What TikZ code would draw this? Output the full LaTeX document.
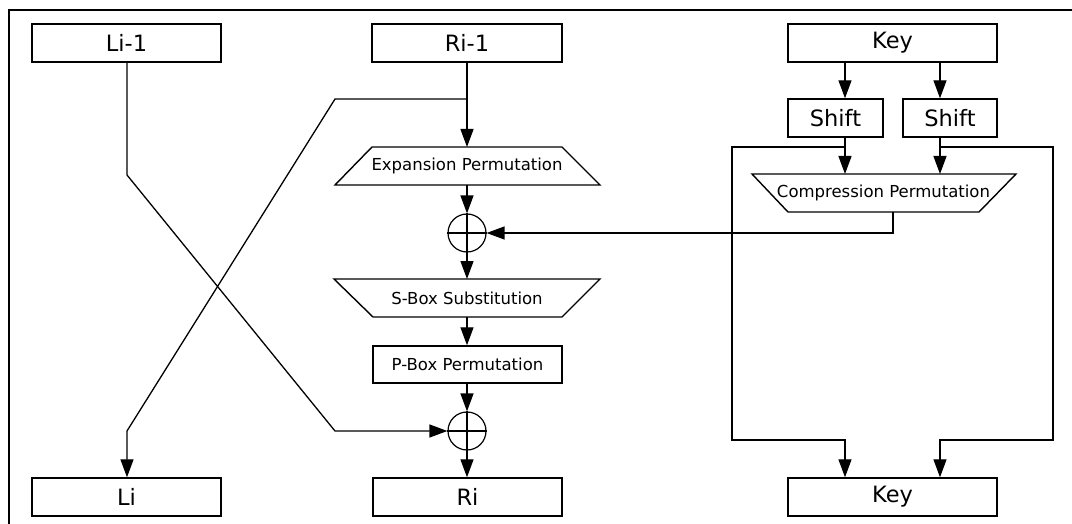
\documentclass[tikz,border=0pt]{standalone}
\usepackage{fontspec}
\setmainfont{DejaVu Sans}
\usetikzlibrary{arrows.meta}
\tikzset{
  ln/.style={line width=1.3pt, line join=miter},
  arr/.style={ln, -{Triangle[length=18pt,width=13pt]}},
  bigbox/.style={draw, line width=1.4pt, inner sep=0pt, minimum height=38pt, font=\fontsize{22.5}{26}\selectfont},
  smallbox/.style={draw, line width=1.4pt, inner sep=0pt, minimum height=37pt, font=\fontsize{16.5}{19}\selectfont},
  traplabel/.style={inner sep=0pt, minimum height=38pt, font=\fontsize{16.5}{19}\selectfont},
  xorc/.style={draw, circle, line width=1.2pt, minimum size=38pt, inner sep=0pt}
}
\begin{document}
\begin{tikzpicture}[x=1pt,y=-1pt]
\useasboundingbox (0,0) rectangle (1072,524);
\fill[white] (0,0) rectangle (1072,524);
% frame (cropped)
\draw[line width=1.5pt] (1075,10) -- (9,10) -- (9,527);

% top boxes
\node[bigbox, minimum width=189pt] (li1) at (126.5,43) {Li-1};
\node[bigbox, minimum width=190pt] (ri1) at (467,43) {Ri-1};
\node[bigbox, minimum width=209pt] (key1) at (892.5,43) {Key};
\node[bigbox, minimum width=95pt] (sh1) at (835.5,118) {Shift};
\node[bigbox, minimum width=94pt] (sh2) at (950,118) {Shift};

% bottom boxes
\node[bigbox, minimum width=189pt] (li) at (126.5,497) {Li};
\node[bigbox, minimum width=189pt] (ri) at (467.5,497) {Ri};
\node[bigbox, minimum width=209pt] (key2) at (892.5,497) {Key};

% trapezoids
\node[traplabel, minimum width=190pt] (exp) at (467,166) {Expansion Permutation};
\draw[line width=1.4pt] (372,147) -- (562,147) -- (600,185) -- (335,185) -- cycle;
\node[traplabel, minimum width=190pt] (sbox) at (467,298) {S-Box Substitution};
\draw[line width=1.4pt] (334,279) -- (600,279) -- (562,317) -- (373,317) -- cycle;
\node[traplabel, minimum width=191pt] (comp) at (883.5,193) {Compression Permutation};
\draw[line width=1.4pt] (752,174) -- (1016,174) -- (979,212) -- (788,212) -- cycle;

% P-box
\node[smallbox, minimum width=189pt] (pbox) at (467.5,364.5) {P-Box Permutation};

% XORs
\node[xorc] (x1) at (467,233) {};
\draw[line width=1.2pt] (x1.west) -- (x1.east) (x1.north) -- (x1.south);
\node[xorc] (x2) at (467,431) {};
\draw[line width=1.2pt] (x2.west) -- (x2.east) (x2.north) -- (x2.south);

% coordinates
\coordinate (rb) at (467,99);
\coordinate (rb1) at (335,99);
\coordinate (rb2) at (127,431);
\coordinate (lb1) at (127,175);
\coordinate (lb2) at (335,431);
\coordinate (kb1) at (845,147);
\coordinate (kb2) at (940,147);

% central column
\draw[arr] (ri1.south) -- (467,147);
\draw[arr] (467,185) -- (x1.north);
\draw[arr] (x1.south) -- (467,279);
\draw[arr] (467,317) -- (pbox.north -| 467,0);
\draw[arr] (pbox.south -| 467,0) -- (x2.north);
\draw[arr] (x2.south) -- (ri.north -| 467,0);

% swap lines
\draw[arr] (rb) -- (rb1) -- (rb2) -- (li.north -| 127,0);
\draw[arr] (li1.south -| 127,0) -- (lb1) -- (lb2) -- (x2.west);

% key schedule
\draw[arr] (key1.south -| kb1) -- (sh1.north -| kb1);
\draw[arr] (key1.south -| kb2) -- (sh2.north -| kb2);
\draw[arr] (sh1.south -| kb1) -- (845,174);
\draw[arr] (sh2.south -| kb2) -- (940,174);
\draw[arr] (kb1) -- (732,147) -- (732,440) -- (845,440) -- (key2.north -| kb1);
\draw[arr] (kb2) -- (1053,147) -- (1053,440) -- (940,440) -- (key2.north -| kb2);
\draw[arr] (893,212) -- (893,233) -- (x1.east);
\end{tikzpicture}
\end{document}
